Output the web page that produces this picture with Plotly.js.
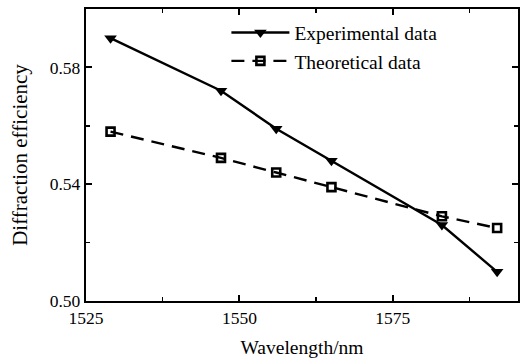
<!DOCTYPE html>
<html>
<head>
<meta charset="utf-8">
<script src="https://cdn.plot.ly/plotly-3.0.1.min.js"></script>
<style>html,body{margin:0;padding:0;background:#fff;}#chart{width:526px;height:359px;}</style>
</head>
<body>
<div id="chart"></div>
<script>
const wavelength = [1529, 1547, 1556, 1565, 1583, 1592];
const experimental = [0.590, 0.572, 0.559, 0.548, 0.526, 0.510];
const theoretical = [0.558, 0.549, 0.544, 0.539, 0.529, 0.525];
const xTicks = [1525, 1550, 1575];
const yTicks = [0.50, 0.54, 0.58];

const fam = 'Liberation Serif, Times New Roman, serif';
const tickFont = {family: fam, size: 17.5, color: '#000'};
const legFont = {family: fam, size: 19.5, color: '#000'};

const traces = [
  {x: wavelength, y: experimental, name: 'Experimental data', mode: 'lines+markers',
   line: {color: '#000', width: 2.4, dash: 'solid'},
   marker: {symbol: 'triangle-down', size: 11, color: '#000'}},
  {x: wavelength, y: theoretical, name: 'Theoretical data', mode: 'lines+markers',
   line: {color: '#000', width: 2.4, dash: '13px,8px'},
   marker: {symbol: 'square-open', size: 8, color: '#000', line: {width: 2.6, color: '#000'}}}
];

const layout = {
  width: 526, height: 359,
  margin: {l: 86, r: 8, t: 9, b: 58},
  paper_bgcolor: '#fff', plot_bgcolor: '#fff',
  font: tickFont,
  showlegend: true,
  legend: {x: 0.325, y: 0.985, xanchor: 'left', yanchor: 'top', bgcolor: 'rgba(0,0,0,0)',
           font: legFont, itemwidth: 58, tracegroupgap: 0},
  xaxis: {range: [1525, 1595.4], tickvals: xTicks, ticktext: xTicks.map(String),
          ticks: 'inside', ticklen: 6, tickwidth: 2, tickcolor: '#000',
          showline: true, linewidth: 2.2, linecolor: '#000', mirror: 'ticks',
          showgrid: false, zeroline: false, tickfont: tickFont,
          minor: {tickvals: [1537.5, 1562.5, 1587.5], ticks: 'inside', ticklen: 4, tickwidth: 1.5, tickcolor: '#000'},
          title: {text: 'Wavelength/nm', font: {family: fam, size: 19.5, color: '#000'}, standoff: 13}},
  yaxis: {range: [0.50, 0.60], tickvals: yTicks, ticktext: yTicks.map(v => v.toFixed(2)),
          ticks: 'inside', ticklen: 6, tickwidth: 2, tickcolor: '#000',
          showline: true, linewidth: 2.2, linecolor: '#000', mirror: 'ticks',
          showgrid: false, zeroline: false, tickfont: tickFont,
          minor: {tickvals: [0.52, 0.56], ticks: 'inside', ticklen: 4, tickwidth: 1.5, tickcolor: '#000'},
          title: {text: 'Diffraction efficiency', font: {family: fam, size: 21, color: '#000'}, standoff: 16}}
};

Plotly.newPlot('chart', traces, layout, {displayModeBar: false, staticPlot: true});
</script>
</body>
</html>
